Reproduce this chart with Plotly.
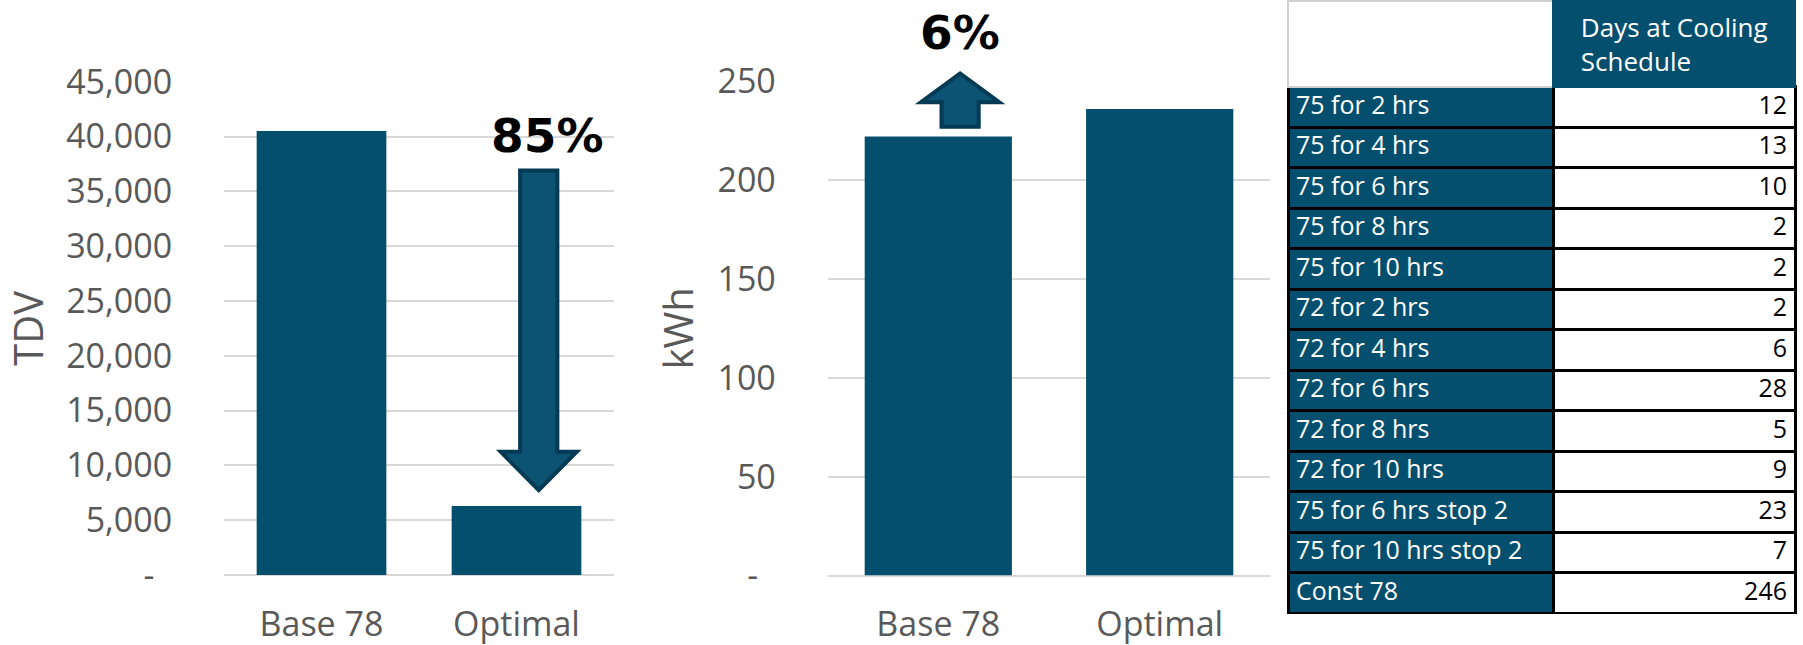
import plotly.graph_objects as go

# ---------------- data ----------------
categories = ["Base 78", "Optimal"]
tdv_values = [40500, 6300]
kwh_values = [222, 236]

tdv_tickvals = [0, 5000, 10000, 15000, 20000, 25000, 30000, 35000, 40000, 45000]
tdv_ticktext = ["-\u00a0\u00a0", "5,000", "10,000", "15,000", "20,000", "25,000",
                "30,000", "35,000", "40,000", "45,000"]
kwh_tickvals = [0, 50, 100, 150, 200, 250]
kwh_ticktext = ["-\u00a0\u00a0", "50", "100", "150", "200", "250"]

tdv_change_label = "85%"
kwh_change_label = "6%"

schedule_labels = ["75 for 2 hrs", "75 for 4 hrs", "75 for 6 hrs", "75 for 8 hrs",
                   "75 for 10 hrs", "72 for 2 hrs", "72 for 4 hrs", "72 for 6 hrs",
                   "72 for 8 hrs", "72 for 10 hrs", "75 for 6 hrs stop 2",
                   "75 for 10 hrs stop 2", "Const 78"]
schedule_days = [12, 13, 10, 2, 2, 2, 6, 28, 5, 9, 23, 7, 246]
table_header = ["", "Days at Cooling<br>Schedule"]

# ---------------- style ----------------
W, H = 1803, 645
BAR = "#054f6e"
ARROW_FILL = "#0b5273"
ARROW_LINE = "#043a54"
GRID = "#d9d9d9"
TXT = "#595959"
FONT = "Open Sans"

def dom_x(p0, p1):
    return [p0 / W, p1 / W]

def dom_y(top, bottom):
    return [1 - bottom / H, 1 - top / H]

fig = go.Figure()

fig.add_trace(go.Bar(x=categories, y=tdv_values, marker=dict(color=BAR, line=dict(width=0)),
                     xaxis="x", yaxis="y", showlegend=False, hoverinfo="skip"))
fig.add_trace(go.Bar(x=categories, y=kwh_values, marker=dict(color=BAR, line=dict(width=0)),
                     xaxis="x2", yaxis="y2", showlegend=False, hoverinfo="skip"))

fig.add_trace(go.Table(
    domain=dict(x=dom_x(1288, 1796), y=dom_y(1, 614)),
    columnwidth=[266, 242],
    header=dict(values=table_header,
                fill_color=["white", BAR],
                line=dict(color=["#d0d0d0", BAR], width=2),
                font=dict(family=FONT, size=26, color="white"),
                align="center", height=80),
    cells=dict(values=[schedule_labels, schedule_days],
               fill_color=[BAR, "white"],
               line=dict(color="black", width=3),
               font=dict(family=FONT, size=25, color=["white", "black"]),
               align=["left", "right"], height=40.5),
))

axis_common_x = dict(type="category", showgrid=False, showline=False, zeroline=False,
                     automargin=False,
                     ticks="outside", ticklen=19, tickcolor="rgba(0,0,0,0)",
                     tickfont=dict(family=FONT, size=34, color=TXT), range=[-0.5, 1.5])
axis_common_y = dict(showgrid=True, gridcolor=GRID, gridwidth=1.5, zeroline=True,
                     zerolinecolor=GRID, zerolinewidth=1.5, showline=False,
                     automargin=False,
                     ticks="outside", ticklen=44, tickcolor="rgba(0,0,0,0)",
                     tickfont=dict(family=FONT, size=34, color=TXT))

fig.update_layout(
    width=W, height=H, margin=dict(l=0, r=0, t=0, b=0, pad=0, autoexpand=False),
    paper_bgcolor="white", plot_bgcolor="white", bargap=0.335, showlegend=False,
    xaxis=dict(domain=dom_x(224, 614), anchor="y", **axis_common_x),
    yaxis=dict(domain=dom_y(81.7, 575), anchor="x", range=[0, 45000],
               tickvals=tdv_tickvals, ticktext=tdv_ticktext,
               title=dict(text="TDV", font=dict(family=FONT, size=40, color=TXT), standoff=34),
               **axis_common_y),
    xaxis2=dict(domain=dom_x(827.6, 1270.4), anchor="y2", **axis_common_x),
    yaxis2=dict(domain=dom_y(81.2, 575.5), anchor="x2", range=[0, 250],
                tickvals=kwh_tickvals, ticktext=kwh_ticktext,
                title=dict(text="kWh", font=dict(family=FONT, size=40, color=TXT), standoff=11),
                **axis_common_y),
)

# ---------------- block arrows (defined in data units, drawn in axis-domain coords) -------
def xdom(v, ncat):
    return (v + 0.5) / ncat

def ydom(v, ymax):
    return v / ymax

def block_arrow(cx, shaft_hw, head_hw, y_start, y_head, y_tip, ncat, ymax, xr, yr):
    pts = [(cx - shaft_hw, y_start), (cx + shaft_hw, y_start), (cx + shaft_hw, y_head),
           (cx + head_hw, y_head), (cx, y_tip), (cx - head_hw, y_head), (cx - shaft_hw, y_head)]
    path = "M " + " L ".join(f"{xdom(a, ncat):.5f},{ydom(b, ymax):.5f}" for a, b in pts) + " Z"
    return dict(type="path", path=path, xref=xr + " domain", yref=yr + " domain",
                fillcolor=ARROW_FILL, line=dict(color=ARROW_LINE, width=4), layer="above")

fig.add_shape(block_arrow(1.114, 0.0955, 0.195, 36900, 11250, 7750, 2, 45000, "x", "y"))
fig.add_shape(block_arrow(0.0985, 0.084, 0.177, 227, 239.4, 253.9, 2, 250, "x2", "y2"))

pct_font = dict(family="DejaVu Sans", size=47, color="black", weight=700)
fig.add_annotation(x=xdom(1.16, 2), y=ydom(40050, 45000), xref="x domain", yref="y domain",
                   text=tdv_change_label, showarrow=False, font=pct_font,
                   xanchor="center", yanchor="middle")
fig.add_annotation(x=xdom(0.0985, 2), y=ydom(274.8, 250), xref="x2 domain", yref="y2 domain",
                   text=kwh_change_label, showarrow=False, font=pct_font,
                   xanchor="center", yanchor="middle")

fig.write_html("out.html")
